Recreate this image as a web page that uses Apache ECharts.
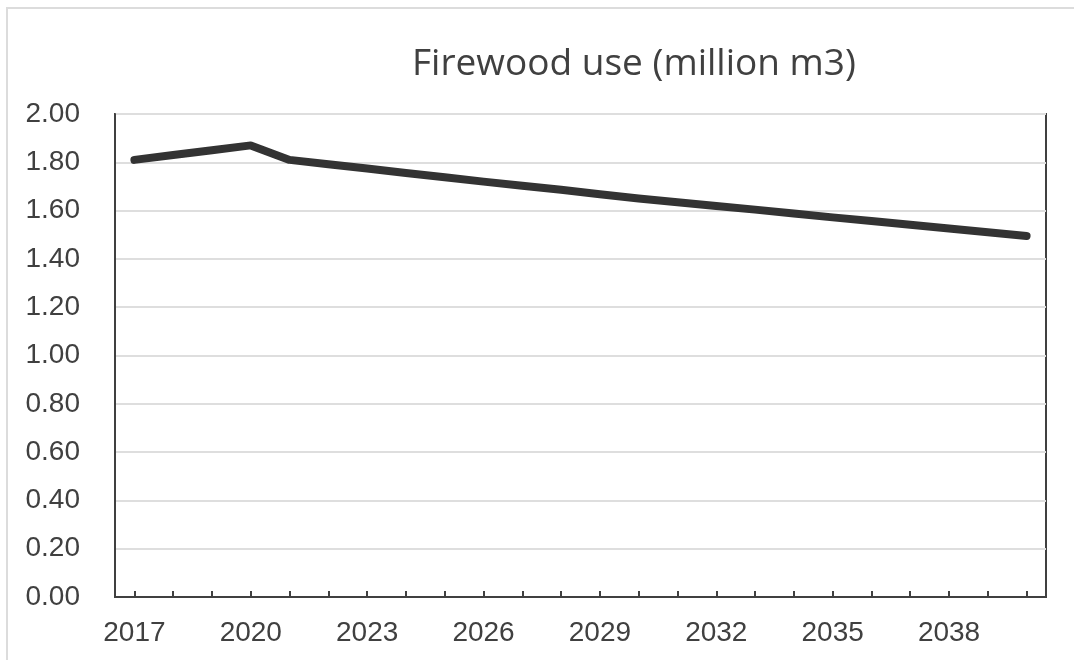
<!DOCTYPE html>
<html>
<head>
<meta charset="utf-8">
<script src="https://cdn.jsdelivr.net/npm/echarts@6/dist/echarts.min.js"></script>
<style>
  html, body { margin: 0; padding: 0; background: #ffffff; }
  #chart { width: 1074px; height: 660px; }
</style>
</head>
<body>
<div id="chart"></div>
<script>
// Annual firewood consumption projection, million cubic metres
const years = ['2017','2018','2019','2020','2021','2022','2023','2024','2025','2026','2027','2028',
               '2029','2030','2031','2032','2033','2034','2035','2036','2037','2038','2039','2040'];
const firewoodUse = [1.81, 1.83, 1.85, 1.87, 1.81, 1.792, 1.774, 1.756, 1.738, 1.72, 1.703, 1.686,
                     1.668, 1.65, 1.635, 1.619, 1.604, 1.588, 1.572, 1.557, 1.541, 1.526, 1.51, 1.495];
const titleText = 'Firewood use (million m3)';
const yMin = 0, yMax = 2, yStep = 0.2;

const chart = echarts.init(document.getElementById('chart'), null, { renderer: 'canvas' });
const axisText = '#404040';

chart.setOption({
  backgroundColor: '#ffffff',
  animation: false,
  title: {
    text: titleText,
    left: 407,
    top: 41,
    textStyle: { fontFamily: 'Open Sans', fontSize: 37, fontWeight: 'normal', color: '#404040' }
  },
  graphic: [{
    type: 'rect',
    shape: { x: 7, y: 8, width: 1200, height: 800 },
    style: { fill: 'none', stroke: '#dcdcdc', lineWidth: 2 },
    silent: true
  }],
  grid: {
    left: 115, right: 28, top: 114, bottom: 63,
    show: true, borderColor: '#404040', borderWidth: 2, backgroundColor: 'transparent'
  },
  xAxis: {
    type: 'category',
    data: years,
    boundaryGap: true,
    axisLine: { show: true, lineStyle: { color: '#404040', width: 2 } },
    axisTick: { show: true, inside: true, length: 6, alignWithLabel: true, interval: 0,
                lineStyle: { color: '#404040', width: 2 } },
    axisLabel: { interval: 2, margin: 22, color: axisText, fontFamily: 'Liberation Sans', fontSize: 28 },
    splitLine: { show: false }
  },
  yAxis: {
    type: 'value',
    min: yMin, max: yMax, interval: yStep,
    axisLine: { show: true, lineStyle: { color: '#404040', width: 2 } },
    axisTick: { show: false },
    axisLabel: { margin: 35, color: axisText, fontFamily: 'Liberation Sans', fontSize: 28,
                 formatter: v => v.toFixed(2) },
    splitLine: { show: true, lineStyle: { color: '#dedede', width: 2 } }
  },
  series: [{
    type: 'line',
    data: firewoodUse,
    symbol: 'none',
    lineStyle: { color: '#333333', width: 8, cap: 'round', join: 'round' }
  }]
});
</script>
</body>
</html>
